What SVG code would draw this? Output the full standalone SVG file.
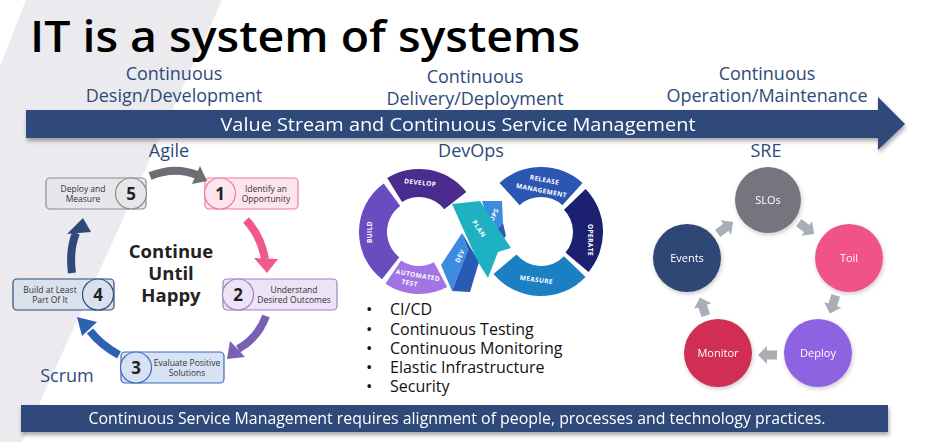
<svg xmlns="http://www.w3.org/2000/svg" width="931" height="442" viewBox="0 0 931 442">
  <defs>
    <filter id="shadow" x="-5%" y="-30%" width="110%" height="170%">
      <feDropShadow dx="1" dy="3" stdDeviation="2" flood-color="#000" flood-opacity="0.35"/>
    </filter>
    <filter id="soft" x="-20%" y="-20%" width="140%" height="140%">
      <feDropShadow dx="1" dy="2" stdDeviation="2" flood-color="#000" flood-opacity="0.2"/>
    </filter>
    <!-- block arrow used between the SRE circles, pointing along +x -->
    <path id="blockArrow" d="M-9,-4.5 L1,-4.5 L1,-9 L10,0 L1,9 L1,4.5 L-9,4.5 Z"/>
  </defs>
  <style>
    .hdr { font-family: "Open Sans", "Liberation Sans", sans-serif; font-size: 18px; fill: #2e4a7a; text-anchor: middle; }
    .band { fill: #2e4a7a; }
    .bandText { font-family: "Open Sans", "Liberation Sans", sans-serif; fill: #ffffff; text-anchor: middle; }
    .step { stroke-width: 1.2; }
    .stepText { font-family: "Open Sans", "Liberation Sans", sans-serif; font-size: 8.5px; fill: #333; text-anchor: middle; }
    .num { font-family: "Open Sans", "Liberation Sans", sans-serif; font-size: 17px; font-weight: 700; fill: #222; text-anchor: middle; }
    .flow { fill: none; stroke-width: 8; }
    .seg { font-family: "Open Sans", "Liberation Sans", sans-serif; font-size: 6.5px; font-weight: 700; fill: #fff; text-anchor: middle; letter-spacing: 0.4px; }
    .bullet { font-family: "Open Sans", "Liberation Sans", sans-serif; font-size: 16px; fill: #111; }
    .dot { font-size: 17px; }
    .sre { font-family: "Open Sans", "Liberation Sans", sans-serif; font-size: 11px; fill: #fff; text-anchor: middle; }
    .sreArrow { fill: #a9adb6; }
  </style>

  <!-- slide background -->
  <rect width="931" height="442" fill="#ffffff"/>
  <polygon points="26,0 222,0 22,442 0,442 0,66" fill="#ebeaee"/>

  <!-- title -->
  <text x="30" y="52" font-family="'Open Sans', 'Liberation Sans', sans-serif" font-size="44" font-weight="600" fill="#000" textLength="550" lengthAdjust="spacingAndGlyphs">IT is a system of systems</text>

  <!-- phase headers -->
  <g id="headers">
    <text class="hdr"><tspan x="174" y="80">Continuous</tspan><tspan x="174" y="102">Design/Development</tspan></text>
    <text class="hdr"><tspan x="475" y="83">Continuous</tspan><tspan x="475" y="105">Delivery/Deployment</tspan></text>
    <text class="hdr"><tspan x="767" y="80">Continuous</tspan><tspan x="767" y="102">Operation/Maintenance</tspan></text>
  </g>

  <!-- value stream arrow -->
  <g id="value-stream" filter="url(#shadow)">
    <polygon class="band" points="26,110 878,110 878,97 905,124 878,150 878,138 26,138"/>
    <text class="bandText" x="458" y="131" font-size="19" textLength="475" lengthAdjust="spacingAndGlyphs">Value Stream and Continuous Service Management</text>
  </g>

  <!-- Agile / Scrum cycle -->
  <text class="hdr" x="169" y="157">Agile</text>
  <text class="hdr" x="67" y="382">Scrum</text>
  <text font-family="'Open Sans', 'Liberation Sans', sans-serif" font-size="18.5" font-weight="700" fill="#222" text-anchor="middle"><tspan x="171" y="258">Continue</tspan><tspan x="171" y="280">Until</tspan><tspan x="171" y="302">Happy</tspan></text>

  <g id="step5">
    <rect class="step" x="46" y="178" width="100" height="31" rx="4" fill="#e7e7eb" stroke="#8b8b90"/>
    <circle class="step" cx="131" cy="193.5" r="15.5" fill="#e7e7eb" stroke="#8b8b90"/>
    <text class="num" x="131" y="199.5">5</text>
    <text class="stepText"><tspan x="83" y="191.5">Deploy and</tspan><tspan x="83" y="201.5">Measure</tspan></text>
  </g>
  <g id="step1">
    <rect class="step" x="205" y="178" width="93" height="31" rx="4" fill="#fde5ee" stroke="#f07ba2"/>
    <circle class="step" cx="220" cy="193.5" r="15.5" fill="#fde5ee" stroke="#f07ba2"/>
    <text class="num" x="220" y="199.5">1</text>
    <text class="stepText"><tspan x="266" y="191.5">Identify an</tspan><tspan x="266" y="201.5">Opportunity</tspan></text>
  </g>
  <g id="step2">
    <rect class="step" x="223" y="279" width="114" height="31" rx="4" fill="#ece4f6" stroke="#9c82c6"/>
    <circle class="step" cx="238" cy="294.5" r="15.5" fill="#ece4f6" stroke="#9c82c6"/>
    <text class="num" x="238" y="300.5">2</text>
    <text class="stepText"><tspan x="294" y="292.5">Understand</tspan><tspan x="294" y="302.5">Desired Outcomes</tspan></text>
  </g>
  <g id="step3">
    <rect class="step" x="121" y="352" width="103" height="31" rx="4" fill="#d7e3f4" stroke="#3b6cb8"/>
    <circle class="step" cx="136" cy="367.5" r="15.5" fill="#d7e3f4" stroke="#3b6cb8"/>
    <text class="num" x="136" y="373.5">3</text>
    <text class="stepText"><tspan x="187" y="365.5">Evaluate Positive</tspan><tspan x="187" y="375.5">Solutions</tspan></text>
  </g>
  <g id="step4">
    <rect class="step" x="13" y="279" width="101" height="31" rx="4" fill="#d9e1ed" stroke="#2f4b7c"/>
    <circle class="step" cx="98" cy="294.5" r="15.5" fill="#d9e1ed" stroke="#2f4b7c"/>
    <text class="num" x="98" y="300.5">4</text>
    <text class="stepText"><tspan x="50" y="292.5">Build at Least</tspan><tspan x="50" y="302.5">Part Of It</tspan></text>
  </g>

  <!-- DevOps infinity loop -->
  <text class="hdr" x="471" y="157">DevOps</text>
  <g id="devops">
    <g id="develop">
      <path d="M387.2,181.1 A60,60 0 0 1 466.3,195.0 L444.2,212.3 A32,32 0 0 0 402.0,204.9 Z" fill="#4a2b8e" transform="translate(0,-3)"/>
      <text class="seg" x="420" y="185" transform="rotate(6 420 185)">DEVELOP</text>
    </g>
    <g id="build">
      <path d="M382.0,279.3 A60,60 0 0 1 383.7,183.5 L400.2,206.1 A32,32 0 0 0 399.3,257.2 Z" fill="#6a4cc0"/>
      <text class="seg" x="372" y="232" transform="rotate(-90 372 232)">BUILD</text>
    </g>
    <g id="automated-test">
      <path d="M447.2,285.0 A60,60 0 0 1 385.4,281.7 L401.1,258.5 A32,32 0 0 0 434.0,260.3 Z" fill="#a274e4" transform="translate(0,2)"/>
      <text class="seg" transform="rotate(10 414 281)"><tspan x="417" y="277">AUTOMATED</tspan><tspan x="410" y="286">TEST</tspan></text>
    </g>
    <g id="release-management">
      <path d="M499.5,185.9 A62,62 0 0 1 582.5,185.9 L562.4,208.2 A32,32 0 0 0 519.6,208.2 Z" fill="#2b56b1" transform="translate(0,-3)"/>
      <text class="seg" transform="rotate(11 543 188)"><tspan x="543" y="182">RELEASE</tspan><tspan x="542" y="193">MANAGEMENT</tspan></text>
    </g>
    <g id="operate">
      <path d="M585.6,188.9 A62,62 0 0 1 588.5,271.9 L565.5,252.6 A32,32 0 0 0 564.0,209.8 Z" fill="#1b2170"/>
      <text class="seg" x="588" y="240" transform="rotate(90 588 240)">OPERATE</text>
    </g>
    <g id="measure">
      <path d="M585.6,275.1 A62,62 0 0 1 493.5,271.9 L516.5,252.6 A32,32 0 0 0 564.0,254.2 Z" fill="#1b80c3" transform="translate(0,2)"/>
      <text class="seg" x="536" y="282" transform="rotate(8 536 282)">MEASURE</text>
    </g>
    <g id="dev">
      <polygon points="441,265 462,233 468,250 452,291" fill="#3d8be0"/>
      <polygon points="462,233 479,262 470,292 452,291 468,250" fill="#2a5bb4"/>
      <text class="seg" x="462" y="257" transform="rotate(-65 462 257)">DEV</text>
    </g>
    <g id="ops">
      <polygon points="482,201 502,201 503,223 493,234" fill="#3d8be0"/>
      <polygon points="493,234 503,223 506,236 499,243" fill="#2a5bb4"/>
      <text class="seg" x="496" y="216" transform="rotate(-65 496 216)">OPS</text>
    </g>
    <g id="plan">
      <polygon points="452,204 480,201 511,248 498,252 488,278 478,262" fill="#1eb1c2"/>
      <text class="seg" x="477" y="230" transform="rotate(56 477 230)">PLAN</text>
    </g>
  </g>

  <!-- DevOps practices -->
  <g id="practices">
    <text class="bullet">
      <tspan class="dot" x="366" y="315">•</tspan><tspan x="390" y="315">CI/CD</tspan>
      <tspan class="dot" x="366" y="335">•</tspan><tspan x="390" y="335">Continuous Testing</tspan>
      <tspan class="dot" x="366" y="354">•</tspan><tspan x="390" y="354">Continuous Monitoring</tspan>
      <tspan class="dot" x="366" y="373">•</tspan><tspan x="390" y="373">Elastic Infrastructure</tspan>
      <tspan class="dot" x="366" y="392">•</tspan><tspan x="390" y="392">Security</tspan>
    </text>
  </g>

  <!-- SRE cycle -->
  <text class="hdr" x="766" y="157">SRE</text>
  <g id="slos" filter="url(#soft)">
    <circle cx="768" cy="200" r="33" fill="#74747f"/>
    <text class="sre" x="768" y="204">SLOs</text>
  </g>
  <g id="toil" filter="url(#soft)">
    <circle cx="849" cy="258" r="34" fill="#f0528a"/>
    <text class="sre" x="849" y="262">Toil</text>
  </g>
  <g id="deploy" filter="url(#soft)">
    <circle cx="818" cy="353" r="34" fill="#8d63e2"/>
    <text class="sre" x="818" y="357">Deploy</text>
  </g>
  <g id="monitor" filter="url(#soft)">
    <circle cx="718" cy="353" r="34" fill="#d02d55"/>
    <text class="sre" x="718" y="357">Monitor</text>
  </g>
  <g id="events" filter="url(#soft)">
    <circle cx="687" cy="258" r="34" fill="#2f4774"/>
    <text class="sre" x="687" y="262">Events</text>
  </g>

  <!-- connectors -->
  <g id="connectors">
    <!-- agile cycle arrows -->
    <path class="flow" d="M150,176 Q175,166 197,175" stroke="#6d6e75"/>
    <polygon points="192,184 200,166 207,181" fill="#6d6e75"/>
    <path class="flow" d="M246,220 Q261,236 265,259" stroke="#ef5a8b"/>
    <polygon points="254,258 278,259 267,273" fill="#ef5a8b"/>
    <path class="flow" d="M266,316 Q258,338 238,349" stroke="#7b5fb1"/>
    <polygon points="230,341 245,357 227,359" fill="#7b5fb1"/>
    <path class="flow" d="M119,355 Q101,345 90,331" stroke="#2c62b0"/>
    <polygon points="97,322 82,336 77,317" fill="#2c62b0"/>
    <path class="flow" d="M72,273 Q69,250 76,233" stroke="#2e4a7b"/>
    <polygon points="67,234 91,232 83,218" fill="#2e4a7b"/>
    <!-- SRE cycle arrows -->
    <use href="#blockArrow" class="sreArrow" transform="translate(806,228) rotate(36)"/>
    <use href="#blockArrow" class="sreArrow" transform="translate(833,304) rotate(108)"/>
    <use href="#blockArrow" class="sreArrow" transform="translate(768,355) rotate(180)"/>
    <use href="#blockArrow" class="sreArrow" transform="translate(703,307) rotate(252)"/>
    <use href="#blockArrow" class="sreArrow" transform="translate(725,228) rotate(-36)"/>
  </g>

  <!-- closing statement -->
  <g id="statement" filter="url(#shadow)">
    <rect class="band" x="21" y="405" width="867" height="27"/>
    <text class="bandText" x="457" y="424" font-size="15.5" textLength="737" lengthAdjust="spacingAndGlyphs">Continuous Service Management requires alignment of people, processes and technology practices.</text>
  </g>
</svg>
